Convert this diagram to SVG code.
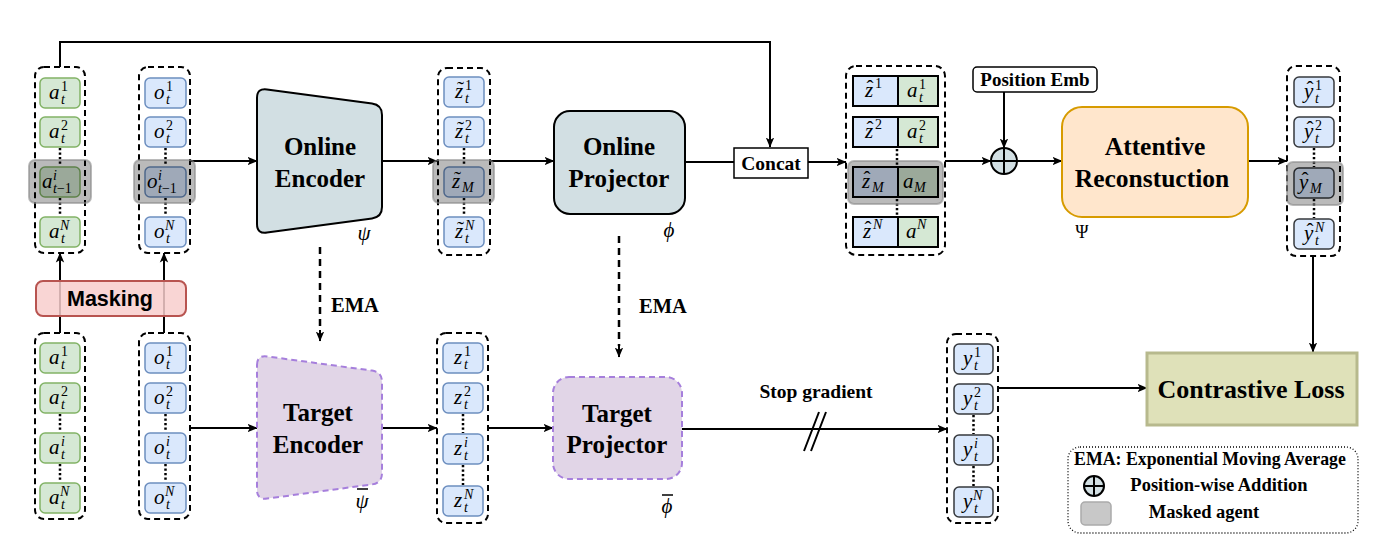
<svg xmlns="http://www.w3.org/2000/svg" width="1383" height="549" viewBox="0 0 1383 549">
<defs>
<marker id="arr" viewBox="0 0 10 10" refX="9.5" refY="5" markerWidth="10" markerHeight="10" markerUnits="userSpaceOnUse" orient="auto">
<path d="M0,0.8 L10,5 L0,9.2 L2.5,5 Z" fill="#000"/>
</marker>
<style>
.dc{fill:none;stroke:#000;stroke-width:2;stroke-dasharray:6 4}
.cg{fill:#d5e8d4;stroke:#82b366;stroke-width:1.5}
.cb{fill:#dae8fc;stroke:#6c8ebf;stroke-width:1.5}
.cd{fill:#dae8fc;stroke:#36393d;stroke-width:1.5}
.kb{fill:#dae8fc;stroke:#000;stroke-width:2}
.kg{fill:#d5e8d4;stroke:#000;stroke-width:2}
.band{fill:#000;fill-opacity:0.27;stroke:#8c8c8c;stroke-opacity:0.6;stroke-width:2}
.dots{fill:none;stroke:#000;stroke-width:2.5;stroke-dasharray:2.2 2.3}
.m{font-family:"Liberation Serif",serif;font-style:italic;font-size:21px;fill:#000}
.sup{font-family:"Liberation Serif",serif;font-size:14px;fill:#000}
.si{font-style:italic}
.acc{font-family:"Liberation Serif",serif;font-size:21px;text-anchor:middle}
.lbl{font-family:"Liberation Serif",serif;font-weight:bold;text-anchor:middle;fill:#000}
.ln{fill:none;stroke:#000;stroke-width:2}
.ema{fill:none;stroke:#000;stroke-width:2.5;stroke-dasharray:7 5}
.enc{fill:#d2dfe3;stroke:#000;stroke-width:2}
.tgt{fill:#e1d5e7;stroke:#a67fdc;stroke-width:2;stroke-dasharray:6 4}
</style>
</defs>
<rect width="1383" height="549" fill="#fff"/>

<!-- connectors -->
<g id="connectors">
<path class="ln" d="M60,67 V42 H770 V147" marker-end="url(#arr)"/>
<path class="ln" d="M190,161 H257" marker-end="url(#arr)"/>
<path class="ln" d="M382,161 H437" marker-end="url(#arr)"/>
<path class="ln" d="M490,161 H554" marker-end="url(#arr)"/>
<path class="ln" d="M685,162 H734"/>
<path class="ln" d="M808,162 H846" marker-end="url(#arr)"/>
<path class="ln" d="M945,161 H991" marker-end="url(#arr)"/>
<path class="ln" d="M1004,92 V148" marker-end="url(#arr)"/>
<path class="ln" d="M1017,161 H1062" marker-end="url(#arr)"/>
<path class="ln" d="M1248,161 H1287" marker-end="url(#arr)"/>
<path class="ln" d="M1313,256 V352" marker-end="url(#arr)"/>
<path class="ln" d="M60,333 V253" marker-end="url(#arr)"/>
<path class="ln" d="M164,333 V253" marker-end="url(#arr)"/>
<path class="ln" d="M190,428 H257" marker-end="url(#arr)"/>
<path class="ln" d="M382,428 H437" marker-end="url(#arr)"/>
<path class="ln" d="M488,428 H553" marker-end="url(#arr)"/>
<path class="ln" d="M682,429 H947" marker-end="url(#arr)"/>
<path class="ln" d="M804,451 L819,412 M811,451 L826,412"/>
<path class="ln" d="M998,388 H1147" marker-end="url(#arr)"/>
<path class="ema" d="M320,247 V330"/>
<path class="ln" d="M320,330 V341" marker-end="url(#arr)"/>
<path class="ema" d="M619,236 V346"/>
<path class="ln" d="M619,346 V357" marker-end="url(#arr)"/>
</g>

<!-- top a column -->
<g id="a-top">
<rect class="dc" x="35" y="67" width="50" height="186" rx="9"/>
<rect class="cg" x="40" y="78" width="40" height="30" rx="5"/>
<rect class="cg" x="40" y="117" width="40" height="30" rx="5"/>
<rect class="cg" x="40" y="167" width="40" height="30" rx="5"/>
<rect class="cg" x="40" y="217" width="40" height="30" rx="5"/>
<path class="dots" d="M60,148 V166 M60,198 V216"/>
<text class="m" x="49" y="99">a</text><text class="sup" x="61" y="91">1</text><text class="sup si" x="61" y="104">t</text>
<text class="m" x="49" y="138">a</text><text class="sup" x="61" y="130">2</text><text class="sup si" x="61" y="143">t</text>
<text class="m" x="42" y="188">a</text><text class="sup si" x="53" y="180">i</text><text class="sup si" x="53" y="193">t<tspan font-style="normal">−1</tspan></text>
<text class="m" x="49" y="238">a</text><text class="sup si" x="60" y="230">N</text><text class="sup si" x="61" y="243">t</text>
<rect class="band" x="29" y="160" width="62" height="43" rx="6"/>
</g>

<!-- top o column -->
<g id="o-top">
<rect class="dc" x="139" y="67" width="51" height="186" rx="9"/>
<rect class="cb" x="145" y="78" width="41" height="30" rx="5"/>
<rect class="cb" x="145" y="117" width="41" height="30" rx="5"/>
<rect class="cb" x="145" y="167" width="41" height="30" rx="5"/>
<rect class="cb" x="145" y="217" width="41" height="30" rx="5"/>
<path class="dots" d="M165.5,148 V166 M165.5,198 V216"/>
<text class="m" x="154" y="99">o</text><text class="sup" x="166" y="91">1</text><text class="sup si" x="166" y="104">t</text>
<text class="m" x="154" y="138">o</text><text class="sup" x="166" y="130">2</text><text class="sup si" x="166" y="143">t</text>
<text class="m" x="147" y="188">o</text><text class="sup si" x="158" y="180">i</text><text class="sup si" x="158" y="193">t<tspan font-style="normal">−1</tspan></text>
<text class="m" x="154" y="238">o</text><text class="sup si" x="165" y="230">N</text><text class="sup si" x="166" y="243">t</text>
<rect class="band" x="134" y="160" width="61" height="43" rx="6"/>
</g>

<!-- bottom a column -->
<g id="a-bottom">
<rect class="dc" x="35" y="333" width="50" height="186" rx="9"/>
<rect class="cg" x="40" y="343" width="40" height="30" rx="5"/>
<rect class="cg" x="40" y="383" width="40" height="30" rx="5"/>
<rect class="cg" x="40" y="433" width="40" height="30" rx="5"/>
<rect class="cg" x="40" y="483" width="40" height="30" rx="5"/>
<path class="dots" d="M60,414 V432 M60,464 V482"/>
<text class="m" x="49" y="364">a</text><text class="sup" x="61" y="356">1</text><text class="sup si" x="61" y="369">t</text>
<text class="m" x="49" y="404">a</text><text class="sup" x="61" y="396">2</text><text class="sup si" x="61" y="409">t</text>
<text class="m" x="49" y="454">a</text><text class="sup si" x="61" y="446">i</text><text class="sup si" x="61" y="459">t</text>
<text class="m" x="49" y="504">a</text><text class="sup si" x="60" y="496">N</text><text class="sup si" x="61" y="509">t</text>
</g>

<!-- bottom o column -->
<g id="o-bottom">
<rect class="dc" x="139" y="333" width="51" height="186" rx="9"/>
<rect class="cb" x="145" y="343" width="41" height="30" rx="5"/>
<rect class="cb" x="145" y="383" width="41" height="30" rx="5"/>
<rect class="cb" x="145" y="433" width="41" height="30" rx="5"/>
<rect class="cb" x="145" y="483" width="41" height="30" rx="5"/>
<path class="dots" d="M165.5,414 V432 M165.5,464 V482"/>
<text class="m" x="154" y="364">o</text><text class="sup" x="166" y="356">1</text><text class="sup si" x="166" y="369">t</text>
<text class="m" x="154" y="404">o</text><text class="sup" x="166" y="396">2</text><text class="sup si" x="166" y="409">t</text>
<text class="m" x="154" y="454">o</text><text class="sup si" x="166" y="446">i</text><text class="sup si" x="166" y="459">t</text>
<text class="m" x="154" y="504">o</text><text class="sup si" x="165" y="496">N</text><text class="sup si" x="166" y="509">t</text>
</g>

<!-- Masking -->
<g id="masking">
<rect x="36" y="281" width="150" height="35" rx="7" fill="#f8cecc" fill-opacity="0.85" stroke="#b85450" stroke-width="2"/>
<text x="110" y="306" font-family="'Liberation Sans',Arial,sans-serif" font-weight="bold" font-size="21.5" text-anchor="middle">Masking</text>
</g>

<!-- Online Encoder -->
<g id="online-encoder">
<path class="enc" d="M257,98 Q257,88 267,89.4 L372,103.6 Q382,105 382,115 L382,207 Q382,217 372,218.4 L267,232.6 Q257,234 257,224 Z"/>
<text class="lbl" x="320" y="155" font-size="25">Online</text>
<text class="lbl" x="320" y="187" font-size="25">Encoder</text>
<text class="m" x="364" y="240" font-size="22" text-anchor="middle">ψ</text>
</g>

<!-- Target Encoder -->
<g id="target-encoder">
<path class="tgt" d="M257,365 Q257,355 267,356.4 L372,370.6 Q382,372 382,382 L382,473 Q382,483 372,484.4 L267,498.6 Q257,500 257,490 Z"/>
<text class="lbl" x="318" y="421" font-size="25">Target</text>
<text class="lbl" x="318" y="453" font-size="25">Encoder</text>
<text class="m" x="362" y="508" font-size="22" text-anchor="middle">ψ</text>
<path d="M357,489 H368" stroke="#000" stroke-width="1.5"/>
</g>

<!-- z tilde column -->
<g id="z-tilde">
<rect class="dc" x="438" y="68" width="52" height="187" rx="9"/>
<rect class="cb" x="444" y="77" width="40" height="30" rx="5"/>
<rect class="cb" x="444" y="117" width="40" height="30" rx="5"/>
<rect class="cb" x="444" y="167" width="40" height="30" rx="5"/>
<rect class="cb" x="444" y="217" width="40" height="30" rx="5"/>
<path class="dots" d="M464,148 V166 M464,198 V216"/>
<text class="m" x="455" y="98">z</text><text class="acc" x="460.5" y="96">˜</text><text class="sup" x="465" y="90">1</text><text class="sup si" x="465" y="103">t</text>
<text class="m" x="455" y="138">z</text><text class="acc" x="460.5" y="136">˜</text><text class="sup" x="465" y="130">2</text><text class="sup si" x="465" y="143">t</text>
<text class="m" x="452" y="188">z</text><text class="acc" x="457.5" y="186">˜</text><text class="sup si" x="462" y="192">M</text>
<text class="m" x="455" y="238">z</text><text class="acc" x="460.5" y="236">˜</text><text class="sup si" x="465" y="230">N</text><text class="sup si" x="465" y="243">t</text>
<rect class="band" x="433" y="160" width="61" height="43" rx="6"/>
</g>

<!-- z column -->
<g id="z-bottom">
<rect class="dc" x="437" y="333" width="51" height="190" rx="9"/>
<rect class="cb" x="443" y="343" width="40" height="30" rx="5"/>
<rect class="cb" x="443" y="383" width="40" height="30" rx="5"/>
<rect class="cb" x="443" y="434" width="40" height="30" rx="5"/>
<rect class="cb" x="443" y="486" width="40" height="30" rx="5"/>
<path class="dots" d="M463,414 V433 M463,465 V485"/>
<text class="m" x="454" y="364">z</text><text class="sup" x="464" y="356">1</text><text class="sup si" x="464" y="369">t</text>
<text class="m" x="454" y="404">z</text><text class="sup" x="464" y="396">2</text><text class="sup si" x="464" y="409">t</text>
<text class="m" x="454" y="455">z</text><text class="sup si" x="464" y="447">i</text><text class="sup si" x="464" y="460">t</text>
<text class="m" x="454" y="507">z</text><text class="sup si" x="464" y="499">N</text><text class="sup si" x="464" y="512">t</text>
</g>

<!-- Online Projector -->
<g id="online-projector">
<rect class="enc" x="554" y="111" width="131" height="103" rx="16"/>
<text class="lbl" x="619" y="155" font-size="25">Online</text>
<text class="lbl" x="619" y="187" font-size="25">Projector</text>
<text class="m" x="669" y="237" font-size="22" text-anchor="middle">ϕ</text>
</g>

<!-- Target Projector -->
<g id="target-projector">
<rect class="tgt" x="553" y="377" width="129" height="102" rx="16"/>
<text class="lbl" x="617" y="422" font-size="25">Target</text>
<text class="lbl" x="617" y="453" font-size="25">Projector</text>
<text class="m" x="667" y="513" font-size="22" text-anchor="middle">ϕ</text>
<path d="M662,495 H673" stroke="#000" stroke-width="1.5"/>
</g>

<!-- EMA labels -->
<g id="ema-labels">
<text class="lbl" x="355" y="312" font-size="20.5">EMA</text>
<text class="lbl" x="663" y="313" font-size="20.5">EMA</text>
</g>

<!-- Concat -->
<g id="concat">
<rect x="734" y="148" width="74" height="30" fill="#fff" stroke="#000" stroke-width="1.5"/>
<text class="lbl" x="771" y="170" font-size="19.5">Concat</text>
</g>

<!-- concatenated column -->
<g id="za-column">
<rect class="dc" x="846" y="66" width="99" height="189" rx="10"/>
<rect class="kb" x="853" y="76" width="45" height="30"/><rect class="kg" x="898" y="76" width="40" height="30"/>
<rect class="kb" x="853" y="117" width="45" height="30"/><rect class="kg" x="898" y="117" width="40" height="30"/>
<rect class="kb" x="853" y="167" width="45" height="30"/><rect class="kg" x="898" y="167" width="40" height="30"/>
<rect class="kb" x="853" y="217" width="45" height="30"/><rect class="kg" x="898" y="217" width="40" height="30"/>
<path class="dots" d="M897,149 V166 M897,199 V216"/>
<text class="m" x="865" y="97">z</text><text class="acc" x="870" y="95">ˆ</text><text class="sup" x="875" y="88">1</text>
<text class="m" x="907" y="97">a</text><text class="sup" x="919" y="89">1</text><text class="sup si" x="919" y="102">t</text>
<text class="m" x="865" y="138">z</text><text class="acc" x="870" y="136">ˆ</text><text class="sup" x="875" y="129">2</text>
<text class="m" x="907" y="138">a</text><text class="sup" x="919" y="130">2</text><text class="sup si" x="919" y="143">t</text>
<text class="m" x="862" y="188">z</text><text class="acc" x="867" y="186">ˆ</text><text class="sup si" x="872" y="192">M</text>
<text class="m" x="903" y="188">a</text><text class="sup si" x="914" y="192">M</text>
<text class="m" x="863" y="238">z</text><text class="acc" x="868" y="236">ˆ</text><text class="sup si" x="873" y="229">N</text>
<text class="m" x="906" y="238">a</text><text class="sup si" x="917" y="229">N</text>
<rect class="band" x="848" y="161" width="95" height="43" rx="6"/>
</g>

<!-- Position Emb -->
<g id="position-emb">
<rect x="973" y="67" width="124" height="25" rx="4" fill="#fff" stroke="#000" stroke-width="1.5"/>
<text class="lbl" x="1035" y="86" font-size="19">Position Emb</text>
</g>

<!-- plus -->
<g id="pos-add">
<circle cx="1004" cy="161" r="13" fill="#d2dfe3" stroke="#000" stroke-width="2"/>
<path d="M991,161 H1017 M1004,148 V174" stroke="#000" stroke-width="2"/>
</g>

<!-- Attentive Reconstruction -->
<g id="attentive">
<rect x="1062" y="107" width="186" height="110" rx="20" fill="#ffe6cc" stroke="#d79b00" stroke-width="2"/>
<text class="lbl" x="1155" y="155" font-size="25.5">Attentive</text>
<text class="lbl" x="1152" y="187" font-size="25.5">Reconstuction</text>
<text x="1082" y="238" font-family="'Liberation Serif',serif" font-size="18" text-anchor="middle">Ψ</text>
</g>

<!-- y hat column -->
<g id="y-hat">
<rect class="dc" x="1287" y="66" width="53" height="190" rx="9"/>
<rect class="cd" x="1294" y="77" width="40" height="30" rx="5"/>
<rect class="cd" x="1294" y="117" width="40" height="30" rx="5"/>
<rect class="cd" x="1294" y="168" width="40" height="30" rx="5"/>
<rect class="cd" x="1294" y="219" width="40" height="30" rx="5"/>
<path class="dots" d="M1314,148 V167 M1314,199 V218"/>
<text class="m" x="1304" y="98">y</text><text class="acc" x="1310" y="96">ˆ</text><text class="sup" x="1315" y="90">1</text><text class="sup si" x="1315" y="103">t</text>
<text class="m" x="1304" y="138">y</text><text class="acc" x="1310" y="136">ˆ</text><text class="sup" x="1315" y="130">2</text><text class="sup si" x="1315" y="143">t</text>
<text class="m" x="1299" y="189">y</text><text class="acc" x="1305" y="187">ˆ</text><text class="sup si" x="1310" y="193">M</text>
<text class="m" x="1304" y="240">y</text><text class="acc" x="1310" y="238">ˆ</text><text class="sup si" x="1315" y="232">N</text><text class="sup si" x="1315" y="245">t</text>
<rect class="band" x="1287" y="162" width="56" height="43" rx="6"/>
</g>

<!-- y column -->
<g id="y-bottom">
<rect class="dc" x="947" y="334" width="51" height="189" rx="9"/>
<rect class="cd" x="954" y="344" width="39" height="30" rx="5"/>
<rect class="cd" x="954" y="384" width="39" height="30" rx="5"/>
<rect class="cd" x="954" y="435" width="39" height="30" rx="5"/>
<rect class="cd" x="954" y="487" width="39" height="30" rx="5"/>
<path class="dots" d="M973.5,415 V434 M973.5,466 V486"/>
<text class="m" x="963" y="365">y</text><text class="sup" x="974" y="357">1</text><text class="sup si" x="974" y="370">t</text>
<text class="m" x="963" y="405">y</text><text class="sup" x="974" y="397">2</text><text class="sup si" x="974" y="410">t</text>
<text class="m" x="963" y="456">y</text><text class="sup si" x="974" y="448">i</text><text class="sup si" x="974" y="461">t</text>
<text class="m" x="963" y="508">y</text><text class="sup si" x="973" y="500">N</text><text class="sup si" x="974" y="513">t</text>
</g>

<!-- Stop gradient -->
<g id="stop-gradient">
<text class="lbl" x="816" y="398" font-size="19.5">Stop gradient</text>
</g>

<!-- Contrastive Loss -->
<g id="contrastive-loss">
<rect x="1147" y="353" width="210" height="72" fill="#dfe1b9" stroke="#b7b98d" stroke-width="3"/>
<text class="lbl" x="1251" y="398" font-size="26">Contrastive Loss</text>
</g>

<!-- Legend -->
<g id="legend">
<rect x="1068" y="447" width="290" height="86" rx="12" fill="#fff" stroke="#000" stroke-width="1.3" stroke-dasharray="1 2"/>
<text class="lbl" x="1210" y="465" font-size="17.8">EMA: Exponential Moving Average</text>
<circle cx="1094" cy="486" r="10" fill="#d2dfe3" stroke="#000" stroke-width="2"/>
<path d="M1084,486 H1104 M1094,476 V496" stroke="#000" stroke-width="2"/>
<text class="lbl" x="1219" y="491" font-size="18.5">Position-wise Addition</text>
<rect x="1081" y="502" width="30" height="23" rx="4" fill="#c8c8c8" stroke="#aaa" stroke-width="1.5"/>
<text class="lbl" x="1204" y="518" font-size="18.5">Masked agent</text>
</g>
</svg>
